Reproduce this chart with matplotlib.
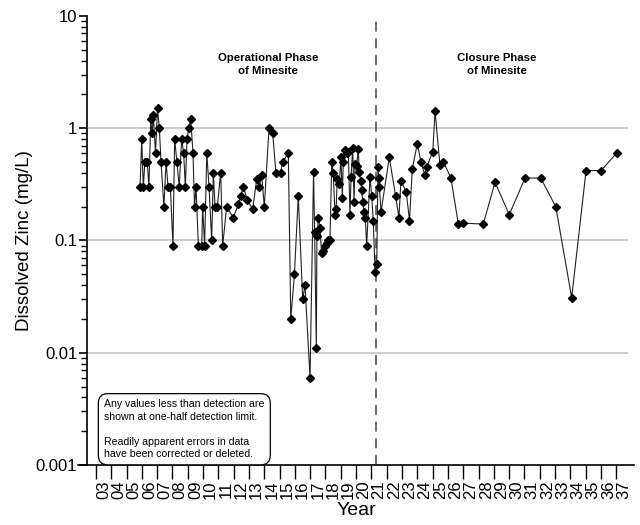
import numpy as np
import matplotlib.pyplot as plt
from matplotlib.ticker import FixedLocator, NullFormatter, FuncFormatter

plt.rcParams['font.family'] = ['Liberation Sans', 'DejaVu Sans']

# sampling date (decimal year) and dissolved zinc (mg/L)
years = [2005.88, 2005.99, 2006.09, 2006.20, 2006.35, 2006.46, 2006.58, 2006.66, 2006.75, 2006.89,
         2007.02, 2007.14, 2007.25, 2007.44, 2007.58, 2007.71, 2007.86, 2008.03, 2008.14, 2008.29,
         2008.44, 2008.60, 2008.73, 2008.84, 2008.95, 2009.06, 2009.19, 2009.34, 2009.44, 2009.54,
         2009.69, 2009.91, 2009.97, 2010.10, 2010.24, 2010.39, 2010.56, 2010.67, 2010.78, 2010.93,
         2011.15, 2011.28, 2011.54, 2011.97, 2012.30, 2012.46, 2012.63, 2012.89, 2013.24, 2013.50,
         2013.67, 2013.83, 2014.00, 2014.31, 2014.55, 2014.76, 2015.06, 2015.20, 2015.57, 2015.73,
         2015.97, 2016.22, 2016.51, 2016.66, 2016.99, 2017.22, 2017.29, 2017.40, 2017.44, 2017.54,
         2017.64, 2017.74, 2017.84, 2017.95, 2018.07, 2018.18, 2018.29, 2018.41, 2018.51, 2018.62,
         2018.69, 2018.77, 2018.90, 2019.01, 2019.10, 2019.16, 2019.27, 2019.39, 2019.49, 2019.60,
         2019.67, 2019.78, 2019.86, 2019.93, 2020.04, 2020.14, 2020.21, 2020.30, 2020.37, 2020.43,
         2020.52, 2020.60, 2020.69, 2020.91, 2021.02, 2021.12, 2021.24, 2021.35, 2021.43, 2021.48,
         2021.52, 2021.63, 2022.17, 2022.58, 2022.80, 2022.93, 2023.28, 2023.49, 2023.67, 2024.00,
         2024.24, 2024.50, 2024.61, 2025.01, 2025.16, 2025.48, 2025.71, 2026.20, 2026.68, 2026.97,
         2028.31, 2029.08, 2030.01, 2031.04, 2032.07, 2033.05, 2034.09, 2035.03, 2036.01, 2037.03]
zinc = [0.3, 0.8, 0.3, 0.5, 0.5, 0.3, 1.2, 0.9, 1.3, 0.6,
        1.5, 1.0, 0.5, 0.2, 0.5, 0.3, 0.3, 0.09, 0.8, 0.5,
        0.3, 0.8, 0.6, 0.3, 0.8, 1.0, 1.2, 0.6, 0.2, 0.3,
        0.09, 0.09, 0.2, 0.09, 0.6, 0.3, 0.1, 0.4, 0.2, 0.2,
        0.4, 0.09, 0.2, 0.16, 0.21, 0.25, 0.3, 0.23, 0.19, 0.35,
        0.3, 0.38, 0.2, 1.0, 0.9, 0.4, 0.4, 0.5, 0.6, 0.02,
        0.05, 0.25, 0.03, 0.04, 0.006, 0.41, 0.12, 0.011, 0.11, 0.16,
        0.13, 0.078, 0.08, 0.09, 0.095, 0.1, 0.1, 0.5, 0.4, 0.17,
        0.19, 0.35, 0.32, 0.55, 0.24, 0.5, 0.64, 0.6, 0.62, 0.17,
        0.37, 0.67, 0.22, 0.48, 0.46, 0.65, 0.41, 0.34, 0.28, 0.22,
        0.18, 0.16, 0.09, 0.37, 0.25, 0.15, 0.052, 0.062, 0.45, 0.36,
        0.3, 0.18, 0.55, 0.25, 0.16, 0.34, 0.27, 0.15, 0.43, 0.73,
        0.5, 0.38, 0.45, 0.62, 1.42, 0.47, 0.5, 0.36, 0.14, 0.143,
        0.14, 0.33, 0.17, 0.36, 0.36, 0.2, 0.031, 0.42, 0.42, 0.6]

closure_start = 2021.3
year_ticks = list(range(2003, 2038))
decades = [0.001, 0.01, 0.1, 1, 10]

fig = plt.figure(figsize=(6.4, 5.25), dpi=100)
ax = fig.add_axes([0.121875, 0.11429, 0.86875, 0.85523])
ax.set_xlim(2001.824, 2038.163)
ax.set_ylim(0.001, 10)
ax.set_yscale('log')

for s in ['top', 'right']:
    ax.spines[s].set_visible(False)
ax.spines['left'].set_position(('data', 2002.41))
ax.spines['left'].set_linewidth(1.2)
ax.spines['bottom'].set_linewidth(1.2)

# horizontal grid only from the y axis to the last year
ax.hlines([0.01, 0.1, 1], 2002.41, 2037.77, colors='#c4c4c4', linewidth=1.2, zorder=0)

ax.axvline(closure_start, color='#555555', linewidth=1.2, dashes=(6, 4), zorder=1)

ax.plot(years, zinc, color='#222222', linewidth=0.8, marker='D', markersize=4.3,
        markerfacecolor='black', markeredgecolor='black', zorder=3)

# y axis: decades labelled, minor ticks between
ax.yaxis.set_major_locator(FixedLocator(decades))
ax.yaxis.set_major_formatter(FuncFormatter(lambda v, p: f'{v:g}'))
ax.yaxis.set_minor_locator(FixedLocator([m * d for d in decades[:-1] for m in range(2, 10)]))
ax.yaxis.set_minor_formatter(NullFormatter())
ax.tick_params(axis='y', which='major', direction='out', length=6, width=1.2, labelsize=12, pad=1)
ax.tick_params(axis='y', which='minor', direction='out', length=4, width=1.0)

# x axis: ticks on year boundaries, labels centred in each year
ax.xaxis.set_major_locator(FixedLocator(year_ticks))
ax.xaxis.set_major_formatter(NullFormatter())
ax.xaxis.set_minor_locator(FixedLocator([y + 0.5 for y in year_ticks]))
ax.xaxis.set_minor_formatter(FuncFormatter(lambda v, p: f'{int(v) % 100:02d}'))
ax.tick_params(axis='x', which='major', direction='out', length=10, width=1.0)
ax.tick_params(axis='x', which='minor', length=0, labelsize=12, labelrotation=90, pad=11)

ax.set_xlabel('Year', fontsize=14, labelpad=2)
ax.set_ylabel('Dissolved Zinc (mg/L)', fontsize=13.5, labelpad=2)

ax.text(2014.27, 3.7, 'Operational Phase\nof Minesite', ha='center', va='center',
        fontsize=8.2, fontweight='bold', linespacing=1.35)
ax.text(2029.18, 3.7, 'Closure Phase\nof Minesite', ha='center', va='center',
        fontsize=8.2, fontweight='bold', linespacing=1.35)

ax.text(0.047, 0.146,
        'Any values less than detection are\nshown at one-half detection limit.\n\n'
        'Readily apparent errors in data\nhave been corrected or deleted.',
        transform=ax.transAxes, ha='left', va='top', fontsize=7.6, linespacing=1.3,
        bbox=dict(boxstyle='round,pad=0.55,rounding_size=0.9', fc='white', ec='black', lw=0.9),
        zorder=4)

fig.savefig('out.png', dpi=100)
